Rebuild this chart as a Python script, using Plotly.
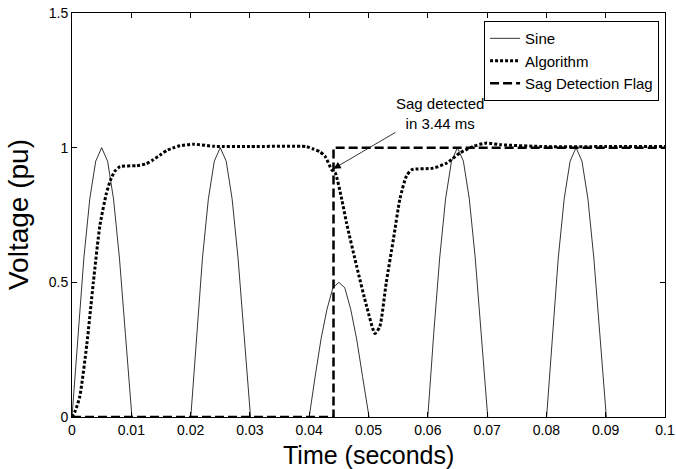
import numpy as np
import plotly.graph_objects as go

# Sampled supply voltage (pu), one sample per millisecond from 0 to 0.1 s
sine_step = 0.001
sine_v = [
    0.00, 0.31, 0.59, 0.81, 0.95, 1.00, 0.95, 0.81, 0.59, 0.31,
    0.00, -0.31, -0.59, -0.81, -0.95, -1.00, -0.95, -0.81, -0.59, -0.31,
    0.00, 0.31, 0.59, 0.81, 0.95, 1.00, 0.95, 0.81, 0.59, 0.31,
    0.00, -0.31, -0.59, -0.81, -0.95, -1.00, -0.95, -0.81, -0.59, -0.31,
    0.00, 0.15, 0.29, 0.40, 0.48, 0.50, 0.48, 0.40, 0.29, 0.15,
    0.00, -0.15, -0.29, -0.40, -0.48, -0.50, -0.48, -0.40, -0.29, -0.15,
    0.00, 0.31, 0.59, 0.81, 0.95, 1.00, 0.95, 0.81, 0.59, 0.31,
    0.00, -0.31, -0.59, -0.81, -0.95, -1.00, -0.95, -0.81, -0.59, -0.31,
    0.00, 0.31, 0.59, 0.81, 0.95, 1.00, 0.95, 0.81, 0.59, 0.31,
    0.00, -0.31, -0.59, -0.81, -0.95, -1.00, -0.95, -0.81, -0.59, -0.31,
    0.00,
]
sine_t = np.round(np.arange(len(sine_v)) * sine_step, 4)

# Estimated magnitude from the detection algorithm
algo_t = [0, 0.0005, 0.0013, 0.0025, 0.0036, 0.0047, 0.0058, 0.0065, 0.0072,
          0.0081, 0.0109, 0.0125, 0.0137, 0.015, 0.016, 0.0172, 0.0182, 0.0205,
          0.024, 0.03, 0.0395, 0.0407, 0.0418, 0.0427, 0.0438, 0.0444, 0.0455,
          0.0463, 0.048, 0.0497, 0.0511, 0.0519, 0.053, 0.0542, 0.0553, 0.0564,
          0.0573, 0.0609, 0.0632, 0.0654, 0.0677, 0.0699, 0.0722, 0.08, 0.09, 0.1]
algo_v = [0, 0.02, 0.075, 0.27, 0.50, 0.71, 0.83, 0.88, 0.912,
          0.93, 0.933, 0.94, 0.955, 0.975, 0.99, 1.0, 1.007, 1.013,
          1.005, 1.004, 1.004, 0.995, 0.985, 0.967, 0.918, 0.906, 0.807,
          0.72, 0.56, 0.41, 0.31, 0.336, 0.50, 0.66, 0.81, 0.895,
          0.918, 0.924, 0.943, 0.98, 1.005, 1.017, 1.011, 1.004, 1.004, 1.004]

# Sag detection flag
flag_t = [0, 0.0441, 0.0441, 0.1]
flag_v = [0, 0, 1, 1]

x_ticks = [0, 0.01, 0.02, 0.03, 0.04, 0.05, 0.06, 0.07, 0.08, 0.09, 0.1]
x_labels = ["0", "0.01", "0.02", "0.03", "0.04", "0.05", "0.06", "0.07", "0.08", "0.09", "0.1"]
y_ticks = [0, 0.5, 1, 1.5]
y_labels = ["0", "0.5", "1", "1.5"]

FONT = "Liberation Sans, Arial, sans-serif"

fig = go.Figure()
fig.add_trace(go.Scatter(x=sine_t, y=sine_v, mode="lines", name="Sine",
                         line=dict(color="black", width=0.8)))
fig.add_trace(go.Scatter(x=algo_t, y=algo_v, mode="lines", name="Algorithm",
                         line=dict(color="black", width=3, dash="3px,2px", shape="spline",
                                   smoothing=0.6)))
fig.add_trace(go.Scatter(x=flag_t, y=flag_v, mode="lines", name="Sag Detection Flag",
                         line=dict(color="black", width=2.5, dash="9px,4px")))

# Arrow pointing at the detection instant, with its label above the tail
fig.add_annotation(x=0.0441, y=0.922, ax=0.0548, ay=1.06, xref="x", yref="y",
                   axref="x", ayref="y", text="", showarrow=True,
                   arrowhead=2, arrowsize=1.8, arrowwidth=0.8, arrowcolor="black")
fig.add_annotation(x=0.0621, y=1.126, xref="x", yref="y",
                   text="Sag detected<br>in 3.44 ms", showarrow=False,
                   font=dict(family=FONT, size=15, color="black"), align="center")

# Axis titles
fig.add_annotation(x=0.5, y=-0.095, xref="paper", yref="paper", yanchor="middle",
                   text="Time (seconds)", showarrow=False,
                   font=dict(family=FONT, size=25, color="black"))
fig.add_annotation(x=-0.091, y=0.5, xref="paper", yref="paper", xanchor="center",
                   text="Voltage (pu)", showarrow=False, textangle=-90,
                   font=dict(family=FONT, size=28, color="black"))

axis_common = dict(showline=True, linecolor="black", linewidth=1, mirror="ticks",
                   ticks="inside", ticklen=5, tickcolor="black", showgrid=False,
                   zeroline=False, automargin=False,
                   tickfont=dict(family=FONT, size=14, color="black"))

fig.update_xaxes(range=[0, 0.1], tickvals=x_ticks, ticktext=x_labels, **axis_common)
fig.update_yaxes(range=[0, 1.5], tickvals=y_ticks, ticktext=y_labels, **axis_common)

fig.update_layout(
    width=676, height=469,
    margin=dict(l=72, r=11, t=13, b=52),
    paper_bgcolor="white", plot_bgcolor="white",
    showlegend=True,
    legend=dict(x=0.99, y=0.98, xanchor="right", yanchor="top",
                bgcolor="white", bordercolor="black", borderwidth=1,
                font=dict(family=FONT, size=15, color="black"),
                tracegroupgap=0),
)

fig.write_html("out.html")
